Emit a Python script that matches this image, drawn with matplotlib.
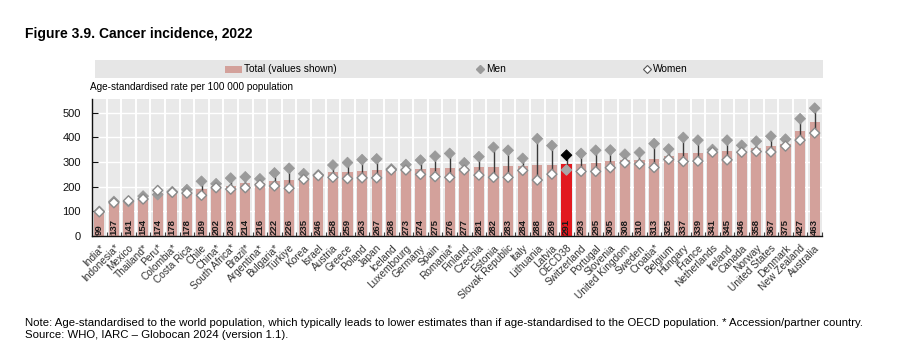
import matplotlib
matplotlib.use("Agg")
import matplotlib.pyplot as plt
from matplotlib.lines import Line2D
from matplotlib.patches import Rectangle

countries = ["India*", "Indonesia*", "Mexico", "Thailand*", "Peru*", "Colombia*", "Costa Rica",
             "Chile", "China*", "South Africa*", "Brazil*", "Argentina*", "Bulgaria*", "Türkiye",
             "Korea", "Israel", "Austria", "Greece", "Poland", "Japan", "Iceland", "Luxembourg",
             "Germany", "Spain", "Romania*", "Finland", "Czechia", "Estonia", "Slovak Republic",
             "Italy", "Lithuania", "Latvia", "OECD38", "Switzerland", "Portugal", "Slovenia",
             "United Kingdom", "Sweden", "Croatia*", "Belgium", "Hungary", "France", "Netherlands",
             "Ireland", "Canada", "Norway", "United States", "Denmark", "New Zealand", "Australia"]

total = [99, 137, 141, 154, 174, 178, 178, 189, 202, 203, 214, 216, 222, 226, 235, 246,
         258, 259, 263, 267, 268, 273, 274, 275, 276, 277, 281, 282, 283, 284, 288, 289, 291,
         293, 295, 305, 308, 310, 313, 325, 337, 339, 341, 345, 346, 358, 367, 375, 427, 463]

men = [100, 140, 140, 162, 168, 180, 188, 222, 212, 235, 240, 232, 256, 275, 253, 248,
       288, 298, 310, 313, 272, 290, 308, 324, 335, 297, 322, 360, 348, 315, 395, 367, 328,
       335, 348, 349, 332, 339, 375, 353, 400, 389, 351, 389, 368, 385, 405, 393, 476, 519]

women = [98, 135, 143, 150, 185, 177, 174, 165, 196, 190, 196, 208, 203, 194, 230, 245,
         238, 233, 236, 236, 268, 268, 250, 241, 238, 268, 247, 238, 238, 266, 227, 251, 268,
         262, 262, 277, 297, 292, 278, 311, 302, 304, 340, 309, 340, 343, 341, 365, 389, 418]

yticks = [0, 100, 200, 300, 400, 500]

FONT = ["Liberation Sans", "DejaVu Sans"]
plt.rcParams["font.family"] = FONT

fig = plt.figure(figsize=(9, 3.45), dpi=100)
W, H = 900, 345
ax = fig.add_axes([92 / W, 1 - 236 / H, (822 - 92) / W, (236 - 99.3) / H])

bg = "#e9e9e9"
ax.set_facecolor(bg)
n = len(countries)
x = list(range(n))
oecd = countries.index("OECD38")

bar_colors = ["#e2191f" if i == oecd else "#d3a19b" for i in x]
ax.bar(x, total, width=0.7, color=bar_colors, zorder=2)

# grid
for yv in yticks[1:]:
    ax.axhline(yv, color="white", lw=1.0, zorder=1)
for i in range(n - 1):
    ax.axvline(i + 0.5, color="white", lw=1.4, zorder=1)

# connectors and markers
for i in x:
    lo, hi = min(men[i], women[i]), max(men[i], women[i])
    ax.plot([i, i], [lo, hi], color="#3a3a3a", lw=1.0, zorder=3)

men_c = ["#000000" if i == oecd else "#9a9a9a" for i in x]
wom_c = ["#a8a8a8" if i == oecd else "white" for i in x]
wom_e = ["#a8a8a8" if i == oecd else "#8a8a8a" for i in x]
ax.scatter(x, men, marker="D", s=30, c=men_c, edgecolors=men_c, linewidths=0.6, zorder=4)
ax.scatter(x, women, marker="D", s=26, c=wom_c, edgecolors=wom_e, linewidths=1.0, zorder=5)

# value labels
for i in x:
    ax.text(i, 5, str(total[i]), rotation=90, ha="center", va="bottom",
            fontsize=6.8, fontweight="bold", color="#1a1a1a", zorder=6)

ax.set_xlim(-0.5, n - 0.5)
ax.set_ylim(0, 555)
ax.set_yticks(yticks)
ax.set_yticklabels([str(v) for v in yticks], fontsize=8, color="#111111")
ax.set_xticks(x)
ax.set_xticklabels(countries, rotation=45, ha="right", rotation_mode="anchor",
                   fontsize=7.3, color="#333333")
ax.tick_params(axis="x", length=0, pad=5)
ax.set_xticks([i + 0.5 for i in range(n)], minor=True)
ax.tick_params(axis="x", which="minor", length=3, direction="in", color="#444444", width=0.8)
ax.tick_params(axis="y", length=4, direction="in", color="#111111", width=0.8, pad=8)

for s in ["top", "right"]:
    ax.spines[s].set_visible(False)
ax.spines["left"].set_color("#111111")
ax.spines["bottom"].set_color("#111111")
ax.spines["left"].set_linewidth(1.0)
ax.spines["bottom"].set_linewidth(1.0)

# title
fig.text(25 / W, 1 - 34 / H, "Figure 3.9. Cancer incidence, 2022", fontsize=10,
         fontweight="bold", va="center", ha="left")

# legend band
fig.add_artist(Rectangle((95 / W, 1 - 78 / H), (823 - 95) / W, 18 / H,
                         transform=fig.transFigure, facecolor="#e6e6e6", edgecolor="none"))
ly = 1 - 69 / H
fig.add_artist(Rectangle((225 / W, ly - 3.5 / H), 17 / W, 7 / H, transform=fig.transFigure,
                         facecolor="#d3a19b", edgecolor="none"))
fig.text(244 / W, ly, "Total (values shown)", fontsize=7.3, va="center", ha="left")
fig.add_artist(Line2D([480 / W], [ly], marker="D", markersize=4.5, color="#9a9a9a",
                      markeredgecolor="#9a9a9a", transform=fig.transFigure, linestyle="none"))
fig.text(486 / W, ly, "Men", fontsize=7.3, va="center", ha="left")
fig.add_artist(Line2D([647 / W], [ly], marker="D", markersize=4.5, color="white",
                      markeredgecolor="#555555", markeredgewidth=0.8,
                      transform=fig.transFigure, linestyle="none"))
fig.text(653 / W, ly, "Women", fontsize=7.3, va="center", ha="left")

# y-axis label
fig.text(90 / W, 1 - 87 / H, "Age-standardised rate per 100 000 population", fontsize=7.2,
         va="center", ha="left")

# notes
fig.text(25 / W, 1 - 323 / H,
         "Note: Age-standardised to the world population, which typically leads to lower estimates "
         "than if age-standardised to the OECD population. * Accession/partner country.",
         fontsize=8.2, va="center", ha="left")
fig.text(25 / W, 1 - 335.5 / H, "Source: WHO, IARC \u2013 Globocan 2024 (version 1.1).",
         fontsize=8.2, va="center", ha="left")

fig.savefig("out.png", dpi=100)
